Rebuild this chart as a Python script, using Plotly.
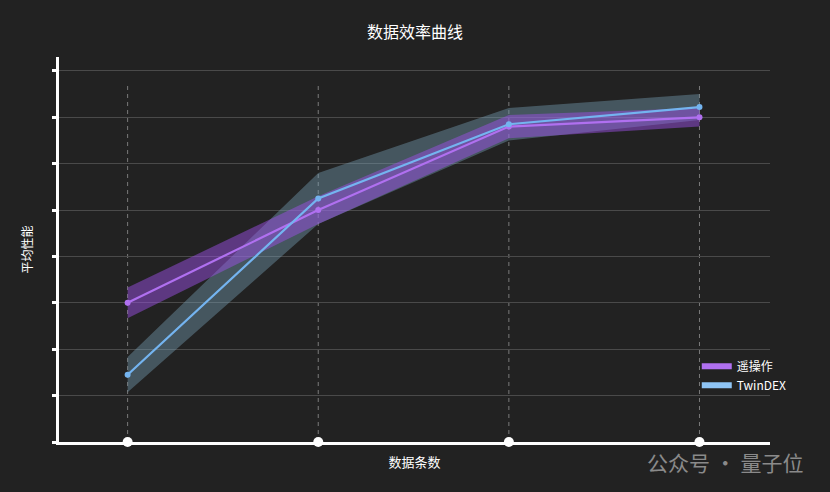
import plotly.graph_objects as go

x_pos = [0, 1, 2, 3]
teleop_mean = [3.0, 5.0, 6.8, 7.0]
teleop_err = [0.33, 0.3, 0.25, 0.2]
twindex_mean = [1.45, 5.25, 6.85, 7.22]
twindex_err = [0.38, 0.55, 0.35, 0.28]

bg = "#222222"
font = "Noto Sans CJK SC"
purple = "#b070f0"
blue = "#74b4f0"

fig = go.Figure()

def band(mean, err, fill, name):
    up = [m + e for m, e in zip(mean, err)]
    lo = [m - e for m, e in zip(mean, err)]
    fig.add_trace(go.Scatter(x=x_pos + x_pos[::-1], y=up + lo[::-1], fill="toself",
                             fillcolor=fill, line=dict(width=0), mode="lines",
                             hoverinfo="skip", showlegend=False, name=name))

band(twindex_mean, twindex_err, "rgba(120,160,180,0.42)", "TwinDEX band")
band(teleop_mean, teleop_err, "rgba(160,80,235,0.47)", "遥操作 band")

fig.add_trace(go.Scatter(x=x_pos, y=teleop_mean, mode="lines+markers", name="遥操作",
                         line=dict(color=purple, width=2.2), marker=dict(size=6),
                         showlegend=False))
fig.add_trace(go.Scatter(x=x_pos, y=twindex_mean, mode="lines+markers", name="TwinDEX",
                         line=dict(color=blue, width=2.2), marker=dict(size=6),
                         showlegend=False))

# legend entries drawn as thick bars
fig.add_trace(go.Scatter(x=[None], y=[None], mode="lines", name="遥操作",
                         line=dict(color=purple, width=6)))
fig.add_trace(go.Scatter(x=[None], y=[None], mode="lines", name="TwinDEX",
                         line=dict(color="#8ec4f5", width=6)))

# white dots on the x axis
fig.add_trace(go.Scatter(x=x_pos, y=[0] * 4, mode="markers", showlegend=False,
                         marker=dict(color="white", size=10), cliponaxis=False, hoverinfo="skip"))

for xv in x_pos:
    fig.add_shape(type="line", x0=xv, x1=xv, y0=0, y1=7.7, xref="x", yref="y",
                  line=dict(color="#7a7a7a", width=1, dash="4px,4px"), layer="below")

fig.update_layout(
    width=830, height=492,
    paper_bgcolor=bg, plot_bgcolor=bg,
    margin=dict(l=59, r=60, t=57, b=50),
    font=dict(family=font, color="white", size=12),
    title=dict(text="数据效率曲线", x=0.5, xanchor="center", y=0.935, yanchor="middle",
               font=dict(size=16, color="white")),
    xaxis=dict(range=[-0.36, 3.37], showgrid=False, zeroline=False, showticklabels=False,
               showline=True, linecolor="white", linewidth=2.5,
               title=dict(text="数据条数", font=dict(size=13), standoff=15)),
    yaxis=dict(range=[0, 8.3], dtick=1, showticklabels=False, zeroline=False,
               showgrid=True, gridcolor="#4a4a4a", gridwidth=1,
               showline=True, linecolor="white", linewidth=2.5,
               ticks="outside", ticklen=4, tickwidth=3, tickcolor="white",
               title=dict(text="平均性能", font=dict(size=12), standoff=18)),
    legend=dict(x=0.897, y=0.172, xanchor="left", yanchor="middle", bgcolor="rgba(0,0,0,0)",
                font=dict(size=12, color="white"), itemwidth=30, tracegroupgap=0),
)

fig.add_annotation(text="公众号 · 量子位", xref="paper", yref="paper", x=1.049, y=-0.052,
                   xanchor="right", yanchor="middle", showarrow=False,
                   font=dict(size=21, color="#8a8a8a"))

fig.write_html("out.html", config={"displayModeBar": False},
               post_script="document.body.style.margin='0';"
                           "document.body.style.background='#222222';"
                           "document.documentElement.style.background='#222222';")
